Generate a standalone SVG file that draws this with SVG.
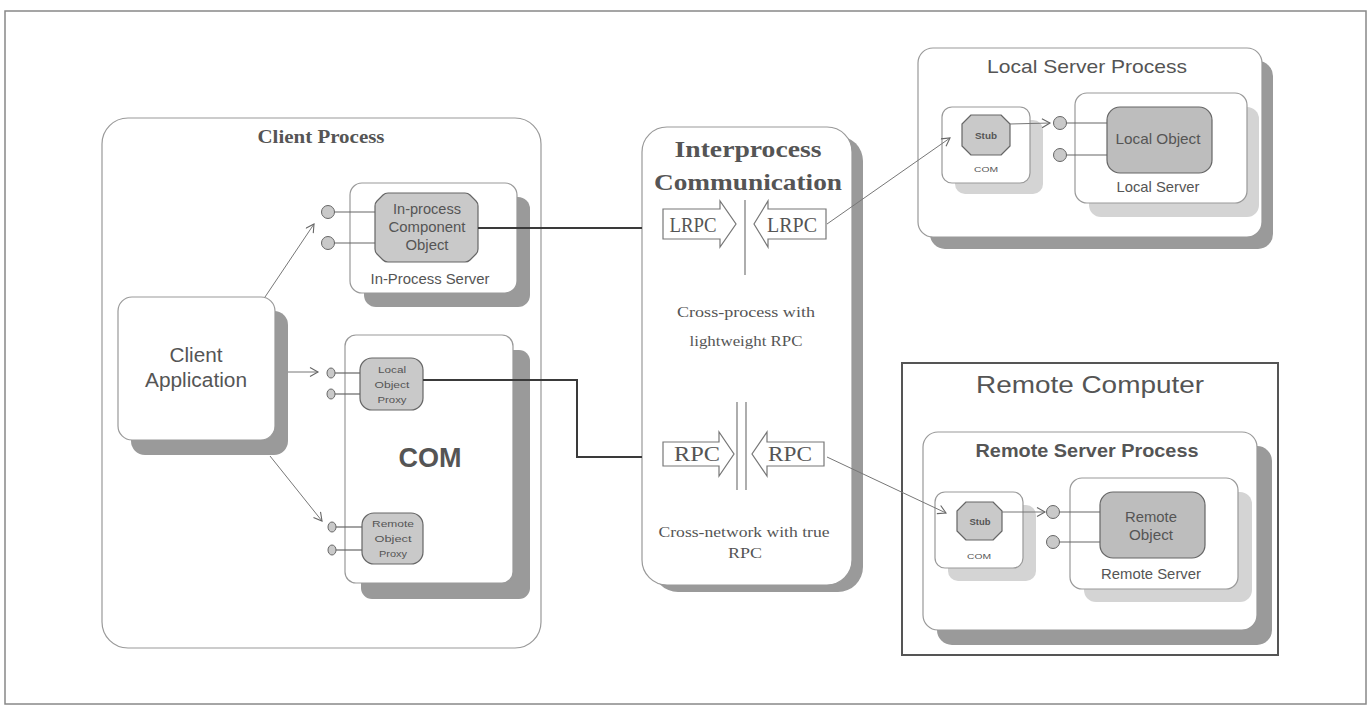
<svg xmlns="http://www.w3.org/2000/svg" width="1370" height="706" viewBox="0 0 1370 706">
<style>
.box{fill:#fff;stroke:#999;stroke-width:1.2}
.shd{fill:#9a9a9a;stroke:none}
.shl{fill:#d4d4d4;stroke:none}
.obj{fill:#c9c9c9;stroke:#666;stroke-width:1.2;stroke-linejoin:round}
.obj2{fill:#bdbdbd;stroke:#666;stroke-width:1.2}
.lol{fill:#c9c9c9;stroke:#666;stroke-width:1}
.stem{stroke:#666;stroke-width:1.2;fill:none}
.thick{stroke:#3a3a3a;stroke-width:2;fill:none}
.thin{stroke:#777;stroke-width:1;fill:none;marker-end:url(#ah)}
.sans{font-family:"Liberation Sans",Arial,sans-serif;text-anchor:middle;fill:#555}
.serif{font-family:"Liberation Serif","Times New Roman",serif;text-anchor:middle;fill:#555}
.barrow{fill:#fff;stroke:#777;stroke-width:1.2}
.sep{stroke:#777;stroke-width:1.2}
</style>
<defs>
<marker id="ah" markerUnits="userSpaceOnUse" markerWidth="12" markerHeight="12" refX="9" refY="5" orient="auto">
<path d="M1,0.5 L9,5 L1,9.5" fill="none" stroke="#666" stroke-width="1.1"/>
</marker>
</defs>
<rect width="1370" height="706" fill="#fff"/>
<rect x="5" y="11" width="1361" height="693" fill="none" stroke="#888" stroke-width="1.5"/>

<g id="client-process">
<rect class="box" x="102" y="118" width="439" height="530" rx="26"/>
<text class="serif" x="321" y="143" font-size="19" font-weight="bold" textLength="127" lengthAdjust="spacingAndGlyphs" fill="#444">Client Process</text>
</g>

<g id="in-process-server">
<rect class="shd" x="364" y="197" width="166" height="110" rx="12"/>
<rect class="box" x="350" y="183" width="167" height="110" rx="12"/>
<text class="sans" x="430" y="284" font-size="14" textLength="119" lengthAdjust="spacingAndGlyphs" fill="#777">In-Process Server</text>
</g>

<g id="in-process-component">
<line class="stem" x1="334" y1="212" x2="375" y2="212"/>
<line class="stem" x1="334" y1="243" x2="375" y2="243"/>
<circle class="lol" cx="328" cy="212" r="6.5"/>
<circle class="lol" cx="328" cy="243" r="6.5"/>
<path class="obj" d="M388,193 H465 Q468,193 470,195 L476,201 Q478,203 478,206 V249 Q478,252 476,254 L470,260 Q468,262 465,262 H388 Q385,262 383,260 L377,254 Q375,252 375,249 V206 Q375,203 377,201 L383,195 Q385,193 388,193 Z"/>
<text class="sans" x="427" y="214" font-size="14" textLength="68" lengthAdjust="spacingAndGlyphs">In-process</text>
<text class="sans" x="427" y="232" font-size="14" textLength="77" lengthAdjust="spacingAndGlyphs">Component</text>
<text class="sans" x="427" y="250" font-size="14" textLength="43" lengthAdjust="spacingAndGlyphs">Object</text>
</g>

<g id="client-application">
<rect class="shd" x="131" y="311" width="157" height="144" rx="14"/>
<rect class="box" x="118" y="297" width="157" height="143" rx="14"/>
<text class="sans" x="196" y="362" font-size="20" textLength="53" lengthAdjust="spacingAndGlyphs" fill="#444">Client</text>
<text class="sans" x="196" y="387" font-size="20" textLength="102" lengthAdjust="spacingAndGlyphs" fill="#444">Application</text>
</g>

<g id="com">
<rect class="shd" x="361" y="350" width="169" height="249" rx="11"/>
<rect class="box" x="345" y="335" width="168" height="248" rx="11"/>
<text class="sans" x="430" y="467" font-size="28" font-weight="bold" textLength="63" lengthAdjust="spacingAndGlyphs" fill="#444">COM</text>
</g>

<g id="local-object-proxy">
<line class="stem" x1="335" y1="373" x2="360" y2="373"/>
<line class="stem" x1="335" y1="394" x2="360" y2="394"/>
<ellipse class="lol" cx="331" cy="373" rx="4" ry="5"/>
<ellipse class="lol" cx="331" cy="394" rx="4" ry="5"/>
<rect class="obj" x="360" y="358" width="63" height="52" rx="12"/>
<text class="sans" x="392" y="373" font-size="9.5" textLength="28" lengthAdjust="spacingAndGlyphs">Local</text>
<text class="sans" x="392" y="388" font-size="9.5" textLength="35" lengthAdjust="spacingAndGlyphs">Object</text>
<text class="sans" x="392" y="403" font-size="9.5" textLength="29" lengthAdjust="spacingAndGlyphs">Proxy</text>
</g>

<g id="remote-object-proxy">
<line class="stem" x1="336" y1="527" x2="362" y2="527"/>
<line class="stem" x1="336" y1="550" x2="362" y2="550"/>
<ellipse class="lol" cx="332" cy="527" rx="4" ry="5"/>
<ellipse class="lol" cx="332" cy="550" rx="4" ry="5"/>
<rect class="obj" x="362" y="513" width="61" height="51" rx="12"/>
<text class="sans" x="393" y="527" font-size="9.5" textLength="42" lengthAdjust="spacingAndGlyphs">Remote</text>
<text class="sans" x="393" y="542" font-size="9.5" textLength="37" lengthAdjust="spacingAndGlyphs">Object</text>
<text class="sans" x="393" y="557" font-size="9.5" textLength="28" lengthAdjust="spacingAndGlyphs">Proxy</text>
</g>

<g id="interprocess">
<rect class="shd" x="653" y="136" width="210" height="456" rx="25"/>
<rect class="box" x="642" y="127" width="210" height="458" rx="25"/>
<text class="serif" x="748" y="157" font-size="23" font-weight="bold" textLength="147" lengthAdjust="spacingAndGlyphs">Interprocess</text>
<text class="serif" x="748" y="190" font-size="23" font-weight="bold" textLength="188" lengthAdjust="spacingAndGlyphs">Communication</text>
<path class="barrow" d="M663,209 H720 V201 L736,224 L720,247 V239 H663 Z"/>
<path class="barrow" d="M826,209 H768 V201 L754,224 L768,247 V239 H826 Z"/>
<line class="sep" x1="745" y1="200" x2="745" y2="275"/>
<text class="serif" x="693" y="232" font-size="20" textLength="47" lengthAdjust="spacingAndGlyphs">LRPC</text>
<text class="serif" x="792" y="232" font-size="20" textLength="50" lengthAdjust="spacingAndGlyphs">LRPC</text>
<text class="serif" x="746" y="317" font-size="15" textLength="138" lengthAdjust="spacingAndGlyphs" fill="#777">Cross-process with</text>
<text class="serif" x="746" y="346" font-size="15" textLength="113" lengthAdjust="spacingAndGlyphs" fill="#777">lightweight RPC</text>
<path class="barrow" d="M663,442 H719 V432 L734,454 L719,476 V466 H663 Z"/>
<path class="barrow" d="M824,442 H767 V432 L752,454 L767,476 V466 H824 Z"/>
<line class="sep" x1="737" y1="402" x2="737" y2="490"/>
<line class="sep" x1="746" y1="402" x2="746" y2="490"/>
<text class="serif" x="697" y="461" font-size="20" textLength="46" lengthAdjust="spacingAndGlyphs">RPC</text>
<text class="serif" x="790" y="461" font-size="20" textLength="44" lengthAdjust="spacingAndGlyphs">RPC</text>
<text class="serif" x="744" y="537" font-size="15" textLength="171" lengthAdjust="spacingAndGlyphs" fill="#777">Cross-network with true</text>
<text class="serif" x="745" y="558" font-size="15" textLength="34" lengthAdjust="spacingAndGlyphs" fill="#777">RPC</text>
</g>

<g id="local-server-process">
<rect class="shd" x="930" y="61" width="343" height="188" rx="15"/>
<rect class="box" x="918" y="48" width="344" height="189" rx="15"/>
<text class="sans" x="1087" y="73" font-size="19" textLength="200" lengthAdjust="spacingAndGlyphs">Local Server Process</text>
</g>

<g id="local-com-stub">
<rect class="shl" x="955" y="120" width="88" height="74" rx="10"/>
<rect class="box" x="942" y="107" width="88" height="76" rx="10"/>
<polygon class="obj" points="971,115 1001,115 1010,124 1010,146 1001,155 971,155 962,146 962,124"/>
<text class="sans" x="986" y="139" font-size="9.5" font-weight="bold" textLength="22" lengthAdjust="spacingAndGlyphs" fill="#666">Stub</text>
<text class="sans" x="986" y="172" font-size="8" textLength="24" lengthAdjust="spacingAndGlyphs" fill="#666">COM</text>
</g>

<g id="local-server">
<rect class="shl" x="1089" y="107" width="170" height="110" rx="12"/>
<rect class="box" x="1075" y="93" width="172" height="110" rx="12"/>
<line class="stem" x1="1066" y1="123" x2="1107" y2="123"/>
<line class="stem" x1="1066" y1="155" x2="1107" y2="155"/>
<circle class="lol" cx="1060" cy="123" r="6.5"/>
<circle class="lol" cx="1060" cy="155" r="6.5"/>
<rect class="obj2" x="1107" y="107" width="105" height="66" rx="13"/>
<text class="sans" x="1158" y="144" font-size="15" textLength="85" lengthAdjust="spacingAndGlyphs">Local Object</text>
<text class="sans" x="1158" y="192" font-size="15" textLength="83" lengthAdjust="spacingAndGlyphs" fill="#666">Local Server</text>
</g>

<g id="remote-computer">
<rect x="902" y="363" width="376" height="292" fill="none" stroke="#555" stroke-width="2"/>
<text class="sans" x="1090" y="393" font-size="24" textLength="228" lengthAdjust="spacingAndGlyphs">Remote Computer</text>
</g>

<g id="remote-server-process">
<rect class="shd" x="937" y="446" width="335" height="199" rx="15"/>
<rect class="box" x="923" y="432" width="334" height="198" rx="15"/>
<text class="sans" x="1087" y="457" font-size="19" font-weight="bold" textLength="223" lengthAdjust="spacingAndGlyphs">Remote Server Process</text>
</g>

<g id="remote-com-stub">
<rect class="shl" x="948" y="505" width="88" height="76" rx="10"/>
<rect class="box" x="935" y="492" width="88" height="76" rx="10"/>
<polygon class="obj" points="966,502 993,502 1002,511 1002,531 993,540 966,540 957,531 957,511"/>
<text class="sans" x="980" y="525" font-size="9.5" font-weight="bold" textLength="21" lengthAdjust="spacingAndGlyphs" fill="#666">Stub</text>
<text class="sans" x="979" y="559" font-size="8" textLength="24" lengthAdjust="spacingAndGlyphs" fill="#666">COM</text>
</g>

<g id="remote-server">
<rect class="shl" x="1084" y="492" width="168" height="110" rx="12"/>
<rect class="box" x="1070" y="478" width="168" height="111" rx="12"/>
<line class="stem" x1="1059" y1="512" x2="1100" y2="512"/>
<line class="stem" x1="1059" y1="542" x2="1100" y2="542"/>
<circle class="lol" cx="1053" cy="512" r="6.5"/>
<circle class="lol" cx="1053" cy="542" r="6.5"/>
<rect class="obj2" x="1100" y="492" width="105" height="66" rx="13"/>
<text class="sans" x="1151" y="522" font-size="15" textLength="52" lengthAdjust="spacingAndGlyphs">Remote</text>
<text class="sans" x="1151" y="540" font-size="15" textLength="44" lengthAdjust="spacingAndGlyphs">Object</text>
<text class="sans" x="1151" y="579" font-size="15" textLength="100" lengthAdjust="spacingAndGlyphs" fill="#666">Remote Server</text>
</g>

<g id="connectors">
<line class="thick" x1="478" y1="228" x2="642" y2="228"/>
<polyline class="thick" points="423,380 577,380 577,457 642,457"/>
<line class="thin" x1="265" y1="297" x2="314" y2="224"/>
<line class="thin" x1="288" y1="372" x2="318" y2="372"/>
<line class="thin" x1="270" y1="456" x2="322" y2="521"/>
<line class="thin" x1="827" y1="224" x2="950" y2="138"/>
<line class="thin" x1="827" y1="457" x2="946" y2="513"/>
<line class="thin" x1="1010" y1="124" x2="1050" y2="123"/>
<line class="thin" x1="1002" y1="512" x2="1045" y2="512"/>
</g>
</svg>
